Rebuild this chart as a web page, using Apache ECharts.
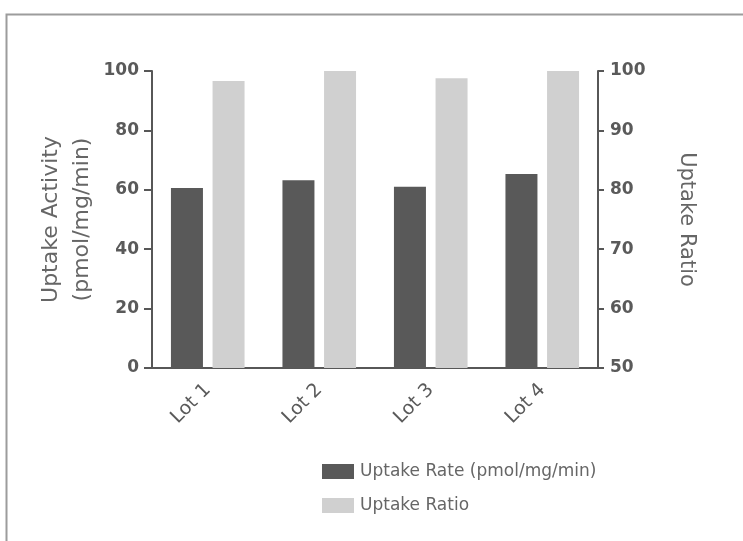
<!DOCTYPE html>
<html>
<head>
<meta charset="utf-8">
<script src="https://cdn.jsdelivr.net/npm/echarts@6/dist/echarts.min.js"></script>
<style>html,body{margin:0;padding:0;background:#fff;}#c{width:743px;height:541px;}</style>
</head>
<body>
<div id="c"></div>
<script>
const categories = ['Lot 1', 'Lot 2', 'Lot 3', 'Lot 4'];
const uptakeRate = [60.6, 63.2, 61.0, 65.3];
const uptakeRatio = [98.3, 100, 98.8, 100];
const leftTicks = { min: 0, max: 100, interval: 20 };
const rightTicks = { min: 50, max: 100, interval: 10 };

const chart = echarts.init(document.getElementById('c'));
const axisColor = '#575757';
const font = 'DejaVu Sans';
chart.setOption({
  animation: false,
  graphic: [{
    type: 'rect', left: 4, top: 12, shape: { width: 800, height: 600 },
    style: { fill: 'none', stroke: '#9c9c9c', lineWidth: 2 }, z: -1
  }],
  grid: { left: 152, right: 145, top: 71, bottom: 173 },
  legend: {
    orient: 'vertical', left: 317, top: 458,
    itemWidth: 32, itemHeight: 15, itemGap: 17,
    icon: 'rect',
    textStyle: { fontFamily: font, fontSize: 17, color: '#666', padding: [0, 0, 0, 1] },
    data: ['Uptake Rate (pmol/mg/min)', 'Uptake Ratio']
  },
  xAxis: {
    type: 'category', data: categories,
    axisLine: { lineStyle: { color: axisColor, width: 2 } },
    axisTick: { alignWithLabel: true, length: 6, lineStyle: { color: axisColor, width: 2 } },
    axisLabel: { rotate: 45, fontFamily: font, fontSize: 19, color: '#5a5a5a', margin: 19 }
  },
  yAxis: [{
    type: 'value', min: leftTicks.min, max: leftTicks.max, interval: leftTicks.interval,
    name: 'Uptake Activity\n(pmol/mg/min)', nameLocation: 'middle', nameGap: 54, nameRotate: 90,
    nameMoveOverlap: false,
    nameTextStyle: { fontFamily: font, fontSize: 22, color: '#666', lineHeight: 31 },
    axisLine: { show: true, lineStyle: { color: axisColor, width: 2 } },
    axisTick: { show: true, length: 8, lineStyle: { color: axisColor, width: 2 } },
    axisLabel: { fontFamily: font, fontWeight: 'bold', fontSize: 17, color: '#5a5a5a', margin: 13 },
    splitLine: { show: false }
  }, {
    type: 'value', min: rightTicks.min, max: rightTicks.max, interval: rightTicks.interval,
    position: 'right',
    name: 'Uptake Ratio', nameLocation: 'middle', nameGap: 78, nameRotate: -90,
    nameMoveOverlap: false,
    nameTextStyle: { fontFamily: font, fontSize: 21, color: '#666' },
    axisLine: { show: true, lineStyle: { color: axisColor, width: 2 } },
    axisTick: { show: true, length: 6, lineStyle: { color: axisColor, width: 2 } },
    axisLabel: { fontFamily: font, fontWeight: 'bold', fontSize: 17, color: '#5a5a5a', margin: 12 },
    splitLine: { show: false }
  }],
  series: [{
    name: 'Uptake Rate (pmol/mg/min)', type: 'bar', yAxisIndex: 0, data: uptakeRate,
    barWidth: 32, barGap: '30%', itemStyle: { color: '#595959' }
  }, {
    name: 'Uptake Ratio', type: 'bar', yAxisIndex: 1, data: uptakeRatio,
    barWidth: 32, itemStyle: { color: '#d0d0d0' }, clip: true
  }]
});
</script>
</body>
</html>
